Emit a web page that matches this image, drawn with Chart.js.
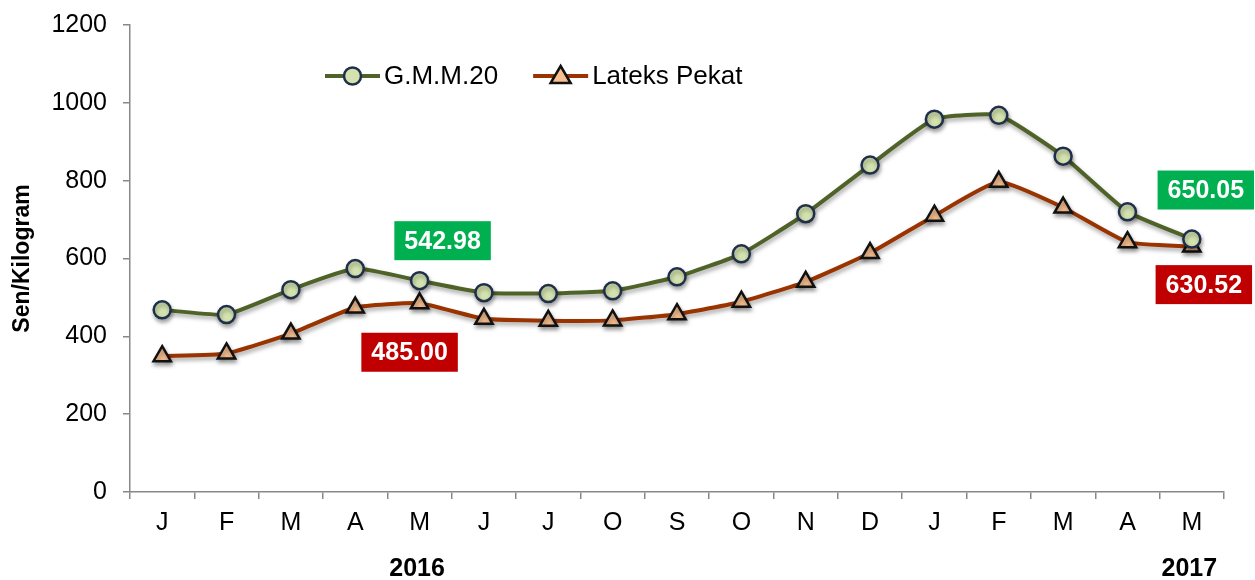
<!DOCTYPE html>
<html>
<head>
<meta charset="utf-8">
<script src="https://cdn.jsdelivr.net/npm/chart.js@4.4.1/dist/chart.umd.min.js"></script>
<style>
html,body{margin:0;padding:0;background:#fff;}
#wrap{width:1255px;height:580px;position:relative;}
</style>
</head>
<body>
<div id="wrap"><canvas id="c" width="1255" height="580"></canvas></div>
<script>
// ---- data ----
const months = ['J','F','M','A','M','J','J','O','S','O','N','D','J','F','M','A','M'];
const gmm20 = [468, 456, 520, 574, 542.98, 512, 510, 517, 553, 612, 715, 840, 958, 968, 863, 720, 650.05];
const lateks = [349, 356, 407, 474, 485.00, 445, 440, 441, 457, 489, 540, 614, 710, 797, 731, 642, 630.52];
const yTicks = [0, 200, 400, 600, 800, 1000, 1200];
const yearLabels = [{index: 4, text: '2016'}, {index: 16, text: '2017'}];
const valueLabels = [
  {ds: 0, index: 4, text: '542.98', color: '#00B050', dx: 23, dy: -40},
  {ds: 1, index: 4, text: '485.00', color: '#C00000', dx: -10, dy: 49},
  {ds: 0, index: 16, text: '650.05', color: '#00B050', dx: 14, dy: -49},
  {ds: 1, index: 16, text: '630.52', color: '#C00000', dx: 12, dy: 38}
];

const FONT = '"Liberation Sans", Arial, sans-serif';

const shadowPlugin = {
  id: 'shadow',
  beforeDatasetsDraw(chart) {
    const ctx = chart.ctx;
    ctx.save();
    ctx.shadowColor = 'rgba(0,0,0,0.35)';
    ctx.shadowBlur = 4;
    ctx.shadowOffsetX = 1;
    ctx.shadowOffsetY = 3;
  },
  afterDatasetsDraw(chart) {
    chart.ctx.restore();
  }
};

function drawMarker(ctx, style, x, y) {
  ctx.save();
  if (style === 'circle') {
    ctx.beginPath();
    ctx.arc(x, y, 8.5, 0, Math.PI * 2);
    ctx.fillStyle = '#D3E2AE';
    ctx.fill();
    ctx.lineWidth = 2.5;
    ctx.strokeStyle = '#1F2F4A';
    ctx.stroke();
  } else {
    ctx.beginPath();
    ctx.moveTo(x, y - 10);
    ctx.lineTo(x + 10, y + 7);
    ctx.lineTo(x - 10, y + 7);
    ctx.closePath();
    ctx.fillStyle = '#F9BF8F';
    ctx.fill();
    ctx.lineWidth = 2.5;
    ctx.strokeStyle = '#111';
    ctx.stroke();
  }
  ctx.restore();
}

const extrasPlugin = {
  id: 'extras',
  afterDraw(chart) {
    const ctx = chart.ctx;
    const xs = chart.scales.x;
    // year labels
    ctx.save();
    ctx.font = 'bold 25px ' + FONT;
    ctx.fillStyle = '#000';
    ctx.textAlign = 'center';
    ctx.textBaseline = 'middle';
    yearLabels.forEach(y => {
      ctx.fillText(y.text, xs.getPixelForValue(y.index) - 2.5, 569);
    });
    ctx.restore();

    // value labels
    ctx.save();
    ctx.font = 'bold 25px ' + FONT;
    ctx.textAlign = 'center';
    ctx.textBaseline = 'middle';
    valueLabels.forEach(v => {
      const el = chart.getDatasetMeta(v.ds).data[v.index];
      const cx = el.x + v.dx, cy = el.y + v.dy;
      const w = ctx.measureText(v.text).width + 20;
      const h = 39;
      ctx.fillStyle = v.color;
      ctx.fillRect(cx - w / 2, cy - h / 2, w, h);
      ctx.fillStyle = '#fff';
      ctx.fillText(v.text, cx, cy + 1);
    });
    ctx.restore();

    // legend
    ctx.save();
    ctx.font = '26px ' + FONT;
    ctx.textBaseline = 'middle';
    const ly = 76;
    let lx = 325;
    chart.data.datasets.forEach((ds, i) => {
      ctx.strokeStyle = ds.borderColor;
      ctx.lineWidth = 4;
      ctx.beginPath();
      ctx.moveTo(lx, ly);
      ctx.lineTo(lx + 55, ly);
      ctx.stroke();
      drawMarker(ctx, ds.pointStyle, lx + 27.5, ly);
      ctx.fillStyle = '#000';
      ctx.fillText(ds.label, lx + 59, ly + 1);
      lx += 59 + ctx.measureText(ds.label).width + 35;
    });
    ctx.restore();
  }
};

new Chart(document.getElementById('c'), {
  type: 'line',
  data: {
    labels: months,
    datasets: [
      {
        label: 'G.M.M.20',
        data: gmm20,
        borderColor: '#4F6228',
        borderWidth: 4,
        tension: 0.15,
        pointStyle: 'circle',
        pointRadius: 8.5,
        pointBorderWidth: 2.5,
        pointBackgroundColor: '#D3E2AE',
        pointBorderColor: '#1F2F4A'
      },
      {
        label: 'Lateks Pekat',
        data: lateks,
        borderColor: '#993300',
        borderWidth: 4,
        tension: 0.15,
        pointStyle: 'triangle',
        pointRadius: 10,
        pointBorderWidth: 2.5,
        pointBackgroundColor: '#F9BF8F',
        pointBorderColor: '#111'
      }
    ]
  },
  options: {
    responsive: false,
    animation: false,
    layout: {padding: {left: 0, right: 31, top: 25, bottom: 0}},
    plugins: {legend: {display: false}, tooltip: {enabled: false}},
    scales: {
      x: {
        offset: true,
        grid: {display: true, drawOnChartArea: false, offset: true, drawTicks: true, tickLength: 7, color: '#888', lineWidth: 1.5},
        border: {display: true, color: '#888', width: 1.5},
        ticks: {font: {family: FONT, size: 25}, color: '#000', padding: 9, maxRotation: 0, autoSkip: false},
        afterFit(s) { s.height = 88; }
      },
      y: {
        min: 0, max: 1200,
        afterBuildTicks(s) { s.ticks = yTicks.map(v => ({value: v})); },
        grid: {display: true, drawOnChartArea: false, drawTicks: true, tickLength: 7, color: '#888', lineWidth: 1.5},
        border: {display: true, color: '#888', width: 1.5},
        ticks: {font: {family: FONT, size: 25}, color: '#000', padding: 16, callback: v => String(v)},
        title: {display: true, text: 'Sen/Kilogram', font: {family: FONT, size: 23, weight: 'bold'}, color: '#000', padding: {top: 9, bottom: 0}},
        afterFit(s) { s.width = 130; s.paddingTop = 10; s.paddingBottom = 10; }
      }
    }
  },
  plugins: [shadowPlugin, extrasPlugin]
});
</script>
</body>
</html>
